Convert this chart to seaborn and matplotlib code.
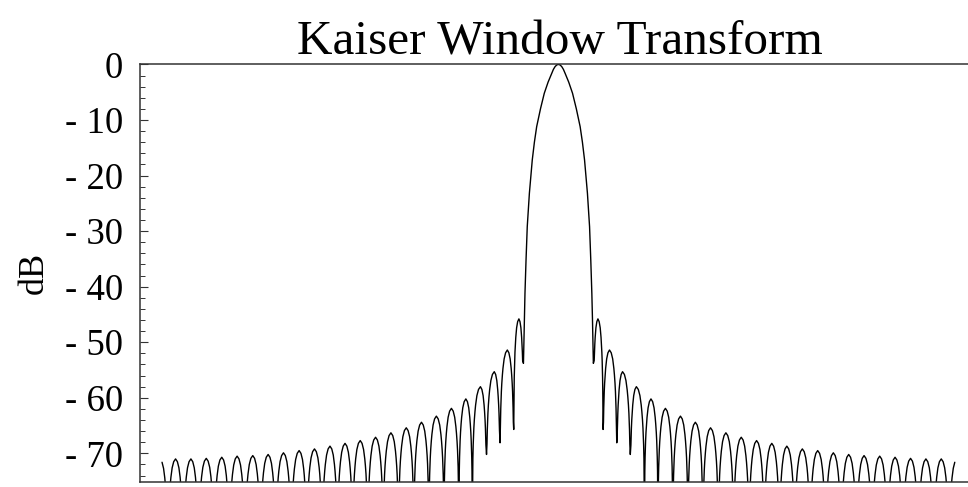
import numpy as np
import pandas as pd
import matplotlib
matplotlib.use("Agg")
import matplotlib.pyplot as plt
import seaborn as sns
from matplotlib.ticker import FixedLocator, MultipleLocator

# ---- data (right half; the transform is symmetric) ----
# x is in frequency bins measured from the centre of the main lobe
main_lobe_bin = [0.0, 0.11, 0.22, 0.33, 0.44, 0.68, 0.93, 1.18, 1.43, 1.58, 1.72, 1.91,
                 2.05, 2.13, 2.20, 2.24]
main_lobe_db = [0.0, -0.1, -0.4, -0.9, -1.6, -3.2, -5.2, -8.0, -11.2, -14.0, -17.2, -23.2,
                -29.2, -35.2, -41.2, -45.7]

sidelobe_peak_bin = [2.60, 3.36, 4.22, 5.13, 6.09, 7.04, 8.03, 9.01, 10.01, 11.02,
                     12.03, 13.04, 14.04, 15.03, 16.05, 17.06, 18.09, 19.10, 20.11,
                     21.14, 22.15, 23.17, 24.18, 25.19, 26.20]
sidelobe_peak_db = [-45.8, -51.4, -55.3, -58.0, -60.2, -61.9, -63.3, -64.4, -65.4, -66.3,
                    -67.1, -67.7, -68.2, -68.7, -69.2, -69.5, -69.9, -70.2, -70.4,
                    -70.5, -70.7, -70.9, -71.0, -71.0, -71.1]

# sampled minima between lobes (deep nulls fall far below the visible range)
null_bin = [2.30, 2.94, 3.84, 4.73, 5.66, 6.55, 7.53, 8.52, 9.51, 10.52, 11.53, 12.54,
            13.54, 14.54, 15.54, 16.56, 17.58, 18.60, 19.61, 20.63, 21.65, 22.66,
            23.68, 24.69, 25.70, 26.70]
null_db = [-53.8, -65.7, -68.1, -70.2, -100, -100, -100, -100, -100, -100, -100, -100,
           -100, -100, -100, -100, -100, -100, -100, -100, -100, -100, -100, -100,
           -100, -100]

# shape of one sidelobe (offset from peak for a half-width of 0.5 bin)
lobe_shape_offset = [0.12, 0.22, 0.30, 0.34, 0.38, 0.41, 0.45, 0.47, 0.49]
lobe_shape_drop_db = [-0.5, -1.6, -3.3, -4.5, -6.0, -7.5, -10.5, -13.0, -20.0]

data_end_bin = 26.1
y_ticks = [0, -10, -20, -30, -40, -50, -60, -70]
y_tick_labels = ["0", "- 10", "- 20", "- 30", "- 40", "- 50", "- 60", "- 70"]

# ---- assemble the polyline of the right half ----
xs = list(main_lobe_bin)
ys = list(main_lobe_db)
for k, (pk, pdb) in enumerate(zip(sidelobe_peak_bin, sidelobe_peak_db)):
    ln, rn = null_bin[k], null_bin[k + 1]
    xs.append(ln); ys.append(null_db[k])
    for off, drop in zip(lobe_shape_offset[::-1], lobe_shape_drop_db[::-1]):
        if pdb + drop > null_db[k]:
            xs.append(pk - off * (pk - ln) / 0.5); ys.append(pdb + drop)
    xs.append(pk); ys.append(pdb)
    for off, drop in zip(lobe_shape_offset, lobe_shape_drop_db):
        if pdb + drop > null_db[k + 1]:
            xs.append(pk + off * (rn - pk) / 0.5); ys.append(pdb + drop)
xs.append(null_bin[-1]); ys.append(null_db[-1])

half = pd.DataFrame({"bin": xs, "db": ys})
half = half[half["bin"] <= data_end_bin]
left = half.iloc[1:][::-1].copy()
left["bin"] = -left["bin"]
curve = pd.concat([left, half], ignore_index=True)

# ---- plot ----
sns.set_style("white")
plt.rcParams["font.family"] = ["Liberation Serif", "DejaVu Serif"]
for key in ["text.color", "axes.labelcolor", "xtick.color", "ytick.color"]:
    plt.rcParams[key] = "black"

fig = plt.figure(figsize=(9.68, 4.87), dpi=100)
ax = fig.add_axes([140 / 968, 5.3 / 487, 828 / 968, 417.3 / 487])

sns.lineplot(data=curve, x="bin", y="db", sort=False, estimator=None,
             color="black", linewidth=1.0, ax=ax)

ax.set_xlim(-27.53, 26.95)
ax.set_ylim(-75.1, 0)

for side in ["left", "top", "bottom"]:
    ax.spines[side].set_visible(True)
    ax.spines[side].set_color("#333333")
    ax.spines[side].set_linewidth(1.1)
ax.spines["right"].set_visible(False)

ax.set_xticks([])
ax.yaxis.set_major_locator(FixedLocator(y_ticks))
ax.set_yticklabels(y_tick_labels)
ax.yaxis.set_minor_locator(MultipleLocator(2))
ax.tick_params(axis="y", which="major", direction="in", length=6, width=0.8,
               color="#333333", labelcolor="black", labelsize=26.5, pad=12, left=True)
ax.tick_params(axis="y", which="minor", direction="in", length=3.5, width=0.7,
               color="#333333", left=True)

ax.set_xlabel("")
ax.set_ylabel("dB", fontsize=26, labelpad=10, color="black")
ax.set_title("Kaiser Window Transform", fontsize=35.5, pad=7, color="black",
             x=0.5 + 6 / 828)

fig.savefig("out.png", dpi=100)
